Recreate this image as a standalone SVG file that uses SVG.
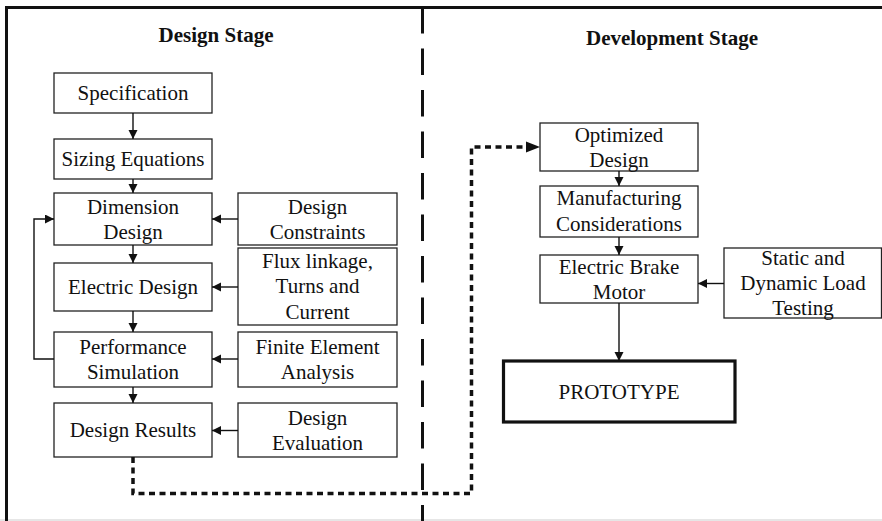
<svg xmlns="http://www.w3.org/2000/svg" width="882" height="521" viewBox="0 0 882 521">
  <style>
    .box { fill: #fff; stroke: #222; stroke-width: 1.3; }
    .proto { fill: #fff; stroke: #111; stroke-width: 3.2; }
    .lbl { font-family: "Liberation Serif", "Times New Roman", serif; font-size: 21px; fill: #111; text-anchor: middle; }
    .title { font-family: "Liberation Serif", "Times New Roman", serif; font-size: 21px; font-weight: bold; fill: #111; text-anchor: middle; }
    .flow { fill: none; stroke: #111; stroke-width: 1.4; }
    .dotted { fill: none; stroke: #111; stroke-width: 3.5; stroke-dasharray: 6 4.5; }
  </style>
  <defs>
    <marker id="arrow" markerUnits="userSpaceOnUse" markerWidth="10" markerHeight="10" refX="9" refY="4.5" orient="auto">
      <path d="M0,0 L9,4.5 L0,9 z" fill="#111"/>
    </marker>
  </defs>

  <rect width="882" height="521" fill="#fff"/>

  <!-- frame and stage divider -->
  <g id="frame">
    <rect x="0" y="519" width="882" height="2" fill="#e6e6e6"/>
    <line x1="5" y1="7.5" x2="882" y2="7.5" stroke="#111" stroke-width="3"/>
    <line x1="6.5" y1="6" x2="6.5" y2="521" stroke="#111" stroke-width="3"/>
    <line x1="422.5" y1="7" x2="422.5" y2="521" stroke="#111" stroke-width="3" stroke-dasharray="26.5 15"/>
  </g>

  <text class="title" x="216" y="42">Design Stage</text>
  <text class="title" x="672" y="45">Development Stage</text>

  <!-- design stage, main column -->
  <g id="specification">
    <rect class="box" x="54" y="73" width="158" height="40"/>
    <text class="lbl" x="133" y="100">Specification</text>
  </g>
  <g id="sizing-equations">
    <rect class="box" x="54" y="139" width="158" height="40"/>
    <text class="lbl" x="133" y="166">Sizing Equations</text>
  </g>
  <g id="dimension-design">
    <rect class="box" x="54" y="193" width="158" height="52"/>
    <text class="lbl" x="133" y="213.5">Dimension</text>
    <text class="lbl" x="133" y="238.5">Design</text>
  </g>
  <g id="electric-design">
    <rect class="box" x="54" y="263" width="158" height="48"/>
    <text class="lbl" x="133" y="294">Electric Design</text>
  </g>
  <g id="performance-simulation">
    <rect class="box" x="54" y="332" width="158" height="55"/>
    <text class="lbl" x="133" y="353.5">Performance</text>
    <text class="lbl" x="133" y="378.5">Simulation</text>
  </g>
  <g id="design-results">
    <rect class="box" x="54" y="403" width="158" height="54"/>
    <text class="lbl" x="133" y="437">Design Results</text>
  </g>

  <!-- design stage, input column -->
  <g id="design-constraints">
    <rect class="box" x="238" y="193" width="159" height="52"/>
    <text class="lbl" x="317.5" y="213.5">Design</text>
    <text class="lbl" x="317.5" y="238.5">Constraints</text>
  </g>
  <g id="flux-linkage">
    <rect class="box" x="238" y="248" width="159" height="77"/>
    <text class="lbl" x="317.5" y="267.5">Flux linkage,</text>
    <text class="lbl" x="317.5" y="293">Turns and</text>
    <text class="lbl" x="317.5" y="318.5">Current</text>
  </g>
  <g id="finite-element-analysis">
    <rect class="box" x="238" y="332" width="159" height="55"/>
    <text class="lbl" x="317.5" y="353.5">Finite Element</text>
    <text class="lbl" x="317.5" y="378.5">Analysis</text>
  </g>
  <g id="design-evaluation">
    <rect class="box" x="238" y="403" width="159" height="54"/>
    <text class="lbl" x="317.5" y="424.5">Design</text>
    <text class="lbl" x="317.5" y="449.5">Evaluation</text>
  </g>

  <!-- development stage -->
  <g id="optimized-design">
    <rect class="box" x="540" y="123" width="158" height="48"/>
    <text class="lbl" x="619" y="141.5">Optimized</text>
    <text class="lbl" x="619" y="166.5">Design</text>
  </g>
  <g id="manufacturing-considerations">
    <rect class="box" x="540" y="186" width="158" height="51"/>
    <text class="lbl" x="619" y="205">Manufacturing</text>
    <text class="lbl" x="619" y="230.5">Considerations</text>
  </g>
  <g id="electric-brake-motor">
    <rect class="box" x="540" y="255" width="158" height="48"/>
    <text class="lbl" x="619" y="273.5">Electric Brake</text>
    <text class="lbl" x="619" y="298.5">Motor</text>
  </g>
  <g id="load-testing">
    <rect class="box" x="724" y="248" width="157.5" height="70"/>
    <text class="lbl" x="803" y="265">Static and</text>
    <text class="lbl" x="803" y="290">Dynamic Load</text>
    <text class="lbl" x="803" y="315">Testing</text>
  </g>
  <g id="prototype">
    <rect class="proto" x="503.5" y="361" width="231.5" height="61"/>
    <text class="lbl" x="619" y="398.5">PROTOTYPE</text>
  </g>

  <!-- connectors -->
  <g id="connectors">
    <line class="flow" x1="133" y1="113" x2="133" y2="139" marker-end="url(#arrow)"/>
    <line class="flow" x1="133" y1="179" x2="133" y2="193" marker-end="url(#arrow)"/>
    <line class="flow" x1="133" y1="245" x2="133" y2="263" marker-end="url(#arrow)"/>
    <line class="flow" x1="133" y1="311" x2="133" y2="332" marker-end="url(#arrow)"/>
    <line class="flow" x1="133" y1="387" x2="133" y2="403" marker-end="url(#arrow)"/>

    <line class="flow" x1="238" y1="219" x2="212" y2="219" marker-end="url(#arrow)"/>
    <line class="flow" x1="238" y1="287" x2="212" y2="287" marker-end="url(#arrow)"/>
    <line class="flow" x1="238" y1="359" x2="212" y2="359" marker-end="url(#arrow)"/>
    <line class="flow" x1="238" y1="430.5" x2="212" y2="430.5" marker-end="url(#arrow)"/>

    <!-- feedback loop from simulation back to dimension design -->
    <path class="flow" d="M54,359 H34 V219 H54" marker-end="url(#arrow)"/>

    <line class="flow" x1="619" y1="171" x2="619" y2="186" marker-end="url(#arrow)"/>
    <line class="flow" x1="619" y1="237" x2="619" y2="255" marker-end="url(#arrow)"/>
    <line class="flow" x1="619" y1="303" x2="619" y2="361" marker-end="url(#arrow)"/>
    <line class="flow" x1="724" y1="283.5" x2="698" y2="283.5" marker-end="url(#arrow)"/>

    <!-- hand-over from design to development -->
    <path class="dotted" d="M133,457 V493.5 H471.5 V147 H527"/>
    <path d="M526,141.5 L540,147 L526,152.5 z" fill="#111"/>
  </g>
</svg>
